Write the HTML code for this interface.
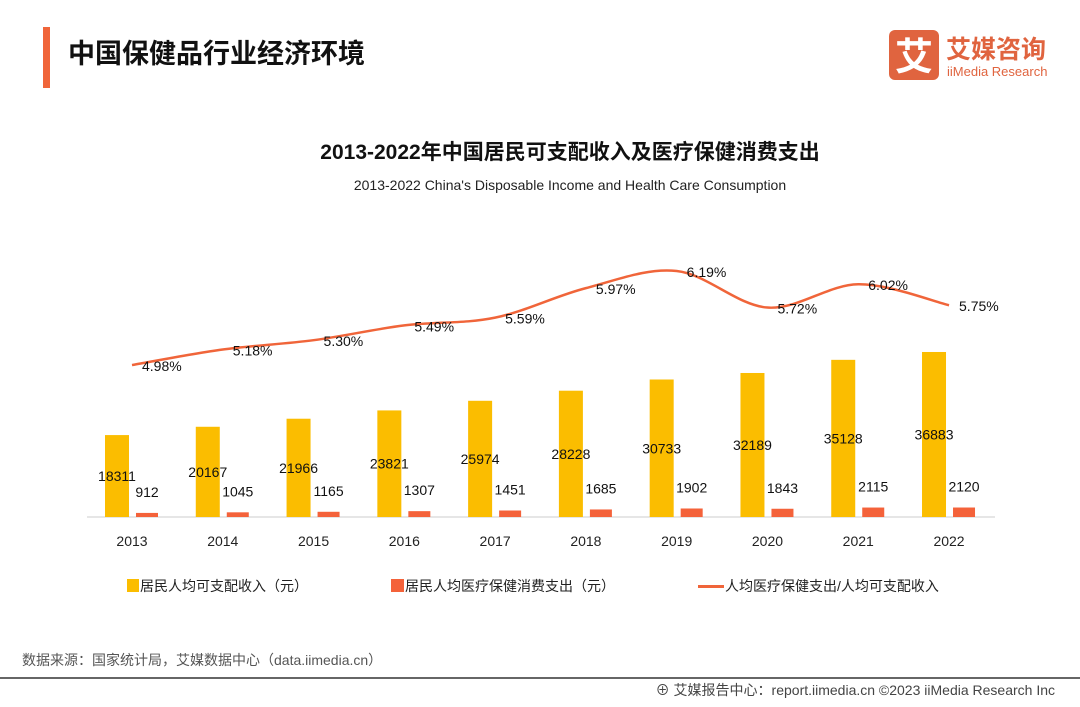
<!DOCTYPE html>
<html><head><meta charset="utf-8"><style>
body{margin:0;width:1080px;height:702px;background:#fff;overflow:hidden;font-family:"Liberation Sans","Noto Sans CJK SC",sans-serif;}
svg text{font-family:"Liberation Sans","Noto Sans CJK SC",sans-serif;}
</style></head><body>
<svg width="1080" height="702">
<rect x="43" y="27" width="7" height="61" fill="#f0653a"/>
<text x="68" y="63" font-size="27" font-weight="bold" fill="#111">中国保健品行业经济环境</text>
<g>
<rect x="889" y="30" width="50" height="50" rx="6" fill="#e0643f"/>
<text x="914" y="70" font-size="38" font-weight="bold" fill="#fff" text-anchor="middle">艾</text>
<text x="946" y="58" font-size="25" font-weight="bold" fill="#e0643f">艾媒咨询</text>
<text x="947" y="76" font-size="13" fill="#e0643f">iiMedia Research</text>
</g>
<text x="570" y="159" font-size="21" font-weight="bold" fill="#111" text-anchor="middle">2013-2022年中国居民可支配收入及医疗保健消费支出</text>
<text x="570" y="190" font-size="14" fill="#222" text-anchor="middle">2013-2022  China's Disposable Income and Health Care Consumption</text>
<g id="chart"></g>
<g>
<rect x="127" y="579" width="12" height="13" fill="#fbbd00"/>
<text x="140" y="591" font-size="14" fill="#222">居民人均可支配收入（元）</text>
<rect x="391" y="579" width="13" height="13" fill="#f4623a"/>
<text x="405" y="591" font-size="14" fill="#222">居民人均医疗保健消费支出（元）</text>
<rect x="698" y="585" width="26" height="3" fill="#f0653a"/>
<text x="725" y="591" font-size="14" fill="#222">人均医疗保健支出/人均可支配收入</text>
</g>
<text x="22" y="665" font-size="14" fill="#555">数据来源：国家统计局，艾媒数据中心（data.iimedia.cn）</text>
<rect x="0" y="677" width="1080" height="2" fill="#666"/>
<text x="1055" y="695" font-size="14" fill="#444" text-anchor="end">⊕ 艾媒报告中心：report.iimedia.cn ©2023 iiMedia Research Inc</text>
</svg>
<script>
const years=["2013","2014","2015","2016","2017","2018","2019","2020","2021","2022"];
const income=[18311,20167,21966,23821,25974,28228,30733,32189,35128,36883];
const health=[912,1045,1165,1307,1451,1685,1902,1843,2115,2120];
const ratio=[4.98,5.18,5.30,5.49,5.59,5.97,6.19,5.72,6.02,5.75];
const ratioLabels=["4.98%","5.18%","5.30%","5.49%","5.59%","5.97%","6.19%","5.72%","6.02%","5.75%"];
const NS="http://www.w3.org/2000/svg";
const g=document.getElementById('chart');
const x0=132,step=90.78,base=517;
const xs=i=>x0+i*step;
const yb=v=>base-v*0.004474;
const yl=v=>752-v*77.7;
function mk(t,a){const e=document.createElementNS(NS,t);for(const k in a)e.setAttribute(k,a[k]);g.appendChild(e);return e;}
const ax=mk('line',{x1:87,x2:995,y1:base,y2:base,stroke:'#ccc','stroke-width':1});


years.forEach((y,i)=>{
 const cx=xs(i);
 const b=mk('rect',{x:cx-27,y:yb(income[i]),width:24,height:base-yb(income[i]),fill:'#fbbd00'});
 
 
 const h=mk('rect',{x:cx+4,y:yb(health[i]),width:22,height:base-yb(health[i]),fill:'#f4623a'});
 
 
 const t1=mk('text',{x:cx-15,y:(yb(income[i])+base)/2+5,'font-size':14,fill:'#111','text-anchor':'middle'});t1.textContent=income[i];
 
 
 const t2=mk('text',{x:cx+15,y:yb(health[i])-16,'font-size':14,fill:'#111','text-anchor':'middle'});t2.textContent=health[i];
 
 
 const tl=mk('text',{x:cx,y:546,'font-size':14,fill:'#222','text-anchor':'middle'});tl.textContent=y;
 
 
});
const pts=ratio.map((v,i)=>[xs(i),yl(v)]);
let d='M'+pts[0][0]+','+pts[0][1];
for(let i=0;i<pts.length-1;i++){
 const p0=pts[Math.max(0,i-1)],p1=pts[i],p2=pts[i+1],p3=pts[Math.min(pts.length-1,i+2)];
 const c1=[p1[0]+(p2[0]-p0[0])/6,p1[1]+(p2[1]-p0[1])/6],c2=[p2[0]-(p3[0]-p1[0])/6,p2[1]-(p3[1]-p1[1])/6];
 d+=` C${c1[0]},${c1[1]} ${c2[0]},${c2[1]} ${p2[0]},${p2[1]}`;
}
const ln=mk('path',{d:d,fill:'none',stroke:'#f0653a','stroke-width':2.5});


pts.forEach((p,i)=>{
 const t=mk('text',{x:p[0]+10,y:p[1]+6,'font-size':14,fill:'#111'});t.textContent=ratioLabels[i];
 
 
});
</script>
</body></html>
